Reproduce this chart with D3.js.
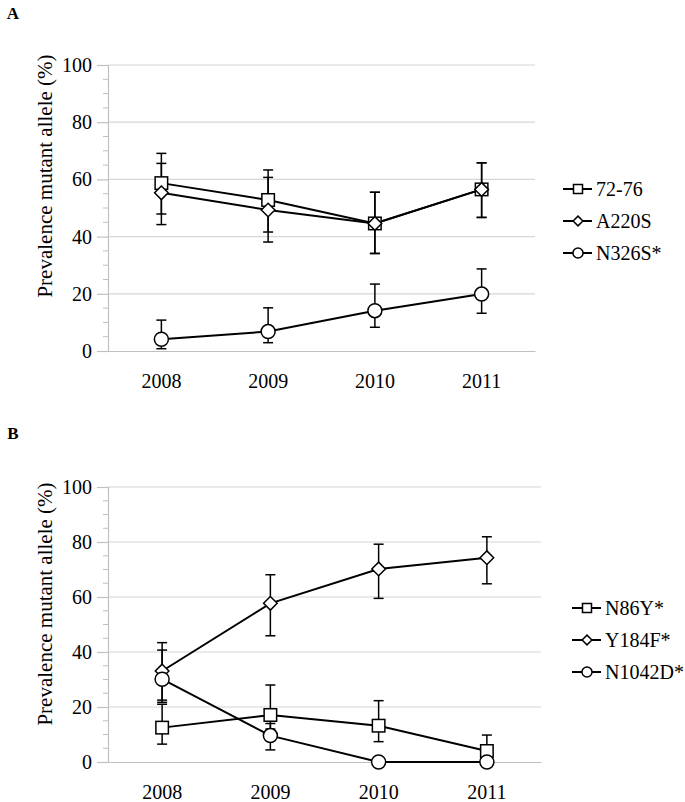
<!DOCTYPE html>
<html><head><meta charset="utf-8">
<script src="https://cdn.jsdelivr.net/npm/d3@7"></script>
<style>
body{margin:0;background:#fff}
svg{display:block}
svg text{font-family:"Liberation Serif","Times New Roman",Tinos,serif !important;}
</style>
</head><body>
<svg id="c" width="685" height="802"></svg>
<script>
const years = ["2008","2009","2010","2011"];
const yTicks = [0,20,40,60,80,100];

// Panel A
const seriesA = ["72-76","A220S","N326S*"];
const valA_7276  = [58.7, 52.8, 44.6, 56.5];
const upA_7276   = [69.1, 63.3, 55.5, 65.8];
const loA_7276   = [47.9, 41.6, 34.1, 46.7];
const valA_A220S = [55.3, 49.3, 44.6, 56.5];
const upA_A220S  = [65.6, 60.7, 55.5, 65.8];
const loA_A220S  = [44.2, 38.1, 34.1, 46.7];
const valA_N326S = [4.1, 6.8, 14.1, 19.9];
const upA_N326S  = [10.8, 15.1, 23.4, 28.7];
const loA_N326S  = [0.8, 2.9, 8.3, 13.2];

// Panel B
const seriesB = ["N86Y*","Y184F*","N1042D*"];
const valB_N86Y   = [12.5, 17.1, 13.2, 4.0];
const upB_N86Y    = [21.0, 28.0, 22.3, 9.8];
const loB_N86Y    = [6.5, 12.0, 7.4, 0.5];
const valB_Y184F  = [33.1, 57.7, 70.2, 74.3];
const upB_Y184F   = [43.4, 68.1, 79.2, 81.9];
const loB_Y184F   = [22.5, 45.9, 59.5, 64.8];
const valB_N1042D = [30.1, 9.6, 0, 0];
const upB_N1042D  = [40.7, 14.0, 0, 0];
const loB_N1042D  = [21.7, 4.4, 0, 0];

const shapes = ["square","diamond","circle"];

const svg = d3.select("#c");
const FONT = "Liberation Serif";

function panel(cfg){
  const g = svg.append("g");
  const x = d3.scaleBand().domain(years).range([cfg.left, cfg.right]);
  const y = d3.scaleLinear().domain([0,100]).range([cfg.bottom, cfg.top]);

  g.append("text").attr("x",13).attr("y",cfg.letterY).attr("text-anchor","middle")
    .attr("dominant-baseline","central").attr("font-family",FONT).attr("font-weight","bold")
    .attr("font-size",17).text(cfg.letter);

  g.append("g").selectAll("line").data(yTicks.filter(d=>d>0)).join("line")
    .attr("x1",cfg.left).attr("x2",cfg.right).attr("y1",d=>y(d)).attr("y2",d=>y(d))
    .attr("stroke","#d6d6d6").attr("stroke-width",1.2);

  const minor = d3.range(0,101,5).filter(d=>d%20!==0);
  g.append("g").selectAll("line").data(minor).join("line")
    .attr("x1",cfg.left-5).attr("x2",cfg.left).attr("y1",d=>y(d)).attr("y2",d=>y(d))
    .attr("stroke","#c0c0c0").attr("stroke-width",1);
  const ya = g.append("g").attr("transform",`translate(${cfg.left},0)`)
    .call(d3.axisLeft(y).tickValues(yTicks).tickSize(11).tickPadding(5));
  ya.attr("font-family",FONT);
  ya.select(".domain").attr("stroke","#c0c0c0").attr("stroke-width",1.2);
  ya.selectAll(".tick line").attr("stroke","#c0c0c0").attr("stroke-width",1.2);
  ya.selectAll("text").attr("font-size",20).attr("fill","#000");

  const xa = g.append("g").attr("transform",`translate(0,${cfg.bottom})`)
    .call(d3.axisBottom(x).tickSize(0).tickPadding(23));
  xa.attr("font-family",FONT);
  xa.select(".domain").attr("stroke","#c0c0c0").attr("stroke-width",1.2);
  xa.selectAll("text").attr("font-size",20).attr("fill","#000");

  g.append("text").attr("transform",`translate(45,${cfg.titleY}) rotate(-90)`)
    .attr("text-anchor","middle").attr("dominant-baseline","central")
    .attr("font-family",FONT).attr("font-size",21).text("Prevalence mutant allele (%)");

  const cx = d => x(d) + x.bandwidth()/2;
  const line = d3.line().x(d=>cx(d.year)).y(d=>y(d.v));

  cfg.series.forEach((s,i)=>{
    const pts = years.map((yr,k)=>({year:yr, v:s.val[k], up:s.up[k], lo:s.lo[k]}));
    const sg = g.append("g");
    pts.forEach(p=>{
      if (p.up===p.v && p.lo===p.v) return;
      sg.append("line").attr("x1",cx(p.year)).attr("x2",cx(p.year))
        .attr("y1",y(p.up)).attr("y2",y(p.lo)).attr("stroke","#000").attr("stroke-width",1.5);
      [p.up,p.lo].forEach(e=>{
        sg.append("line").attr("x1",cx(p.year)-5).attr("x2",cx(p.year)+5)
          .attr("y1",y(e)).attr("y2",y(e)).attr("stroke","#000").attr("stroke-width",1.5);
      });
    });
    sg.append("path").datum(pts).attr("d",line).attr("fill","none")
      .attr("stroke","#000").attr("stroke-width",2);
  });
  cfg.series.forEach((s,i)=>{
    years.forEach((yr,k)=>drawMarker(g, shapes[i], cx(yr), y(s.val[k])));
  });

  cfg.series.forEach((s,i)=>{
    const ly = cfg.legendY[i];
    g.append("line").attr("x1",cfg.legX).attr("x2",cfg.legX+29).attr("y1",ly).attr("y2",ly)
      .attr("stroke","#000").attr("stroke-width",2);
    drawMarker(g, shapes[i], cfg.legX+15, ly, 0.72);
    g.append("text").attr("x",cfg.legX+33).attr("y",ly).attr("dominant-baseline","central")
      .attr("font-family",FONT).attr("font-size",20).text(s.name);
  });
}

function drawMarker(g, shape, x, y, sc=1){
  if (shape==="square"){
    const s=12.5*sc;
    g.append("rect").attr("x",x-s/2).attr("y",y-s/2).attr("width",s).attr("height",s)
      .attr("fill","#fff").attr("stroke","#000").attr("stroke-width",1.5);
  } else if (shape==="diamond"){
    const s=6.8*sc;
    g.append("path").attr("d",`M${x},${y-s}L${x+s},${y}L${x},${y+s}L${x-s},${y}Z`)
      .attr("fill","#fff").attr("stroke","#000").attr("stroke-width",1.5);
  } else {
    g.append("circle").attr("cx",x).attr("cy",y).attr("r",7*sc)
      .attr("fill","#fff").attr("stroke","#000").attr("stroke-width",1.5);
  }
}

panel({letter:"A", letterY:13, left:108, right:535, top:65, bottom:351, titleY:176,
  legX:563, legendY:[189,221,253],
  series:[
    {name:seriesA[0], val:valA_7276, up:upA_7276, lo:loA_7276},
    {name:seriesA[1], val:valA_A220S, up:upA_A220S, lo:loA_A220S},
    {name:seriesA[2], val:valA_N326S, up:upA_N326S, lo:loA_N326S}
  ]});
panel({letter:"B", letterY:433, left:108, right:541, top:487, bottom:762, titleY:604,
  legX:572, legendY:[608,640,672],
  series:[
    {name:seriesB[0], val:valB_N86Y, up:upB_N86Y, lo:loB_N86Y},
    {name:seriesB[1], val:valB_Y184F, up:upB_Y184F, lo:loB_Y184F},
    {name:seriesB[2], val:valB_N1042D, up:upB_N1042D, lo:loB_N1042D}
  ]});
</script>
</body></html>
